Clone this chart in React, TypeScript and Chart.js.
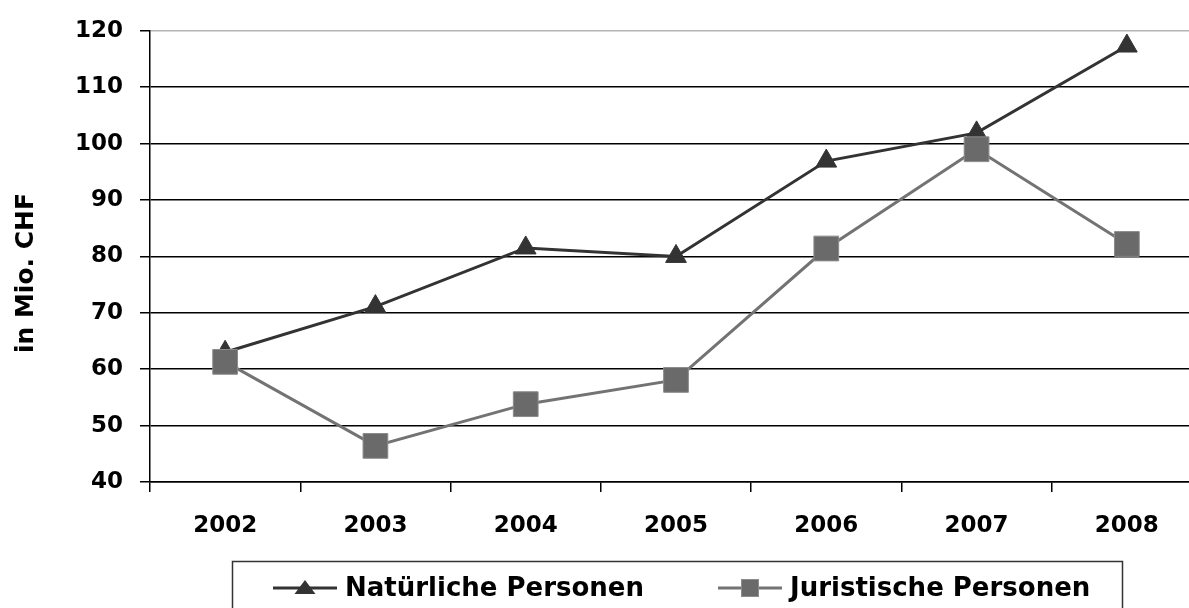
import React, { useEffect, useRef } from "react";
import { Chart, registerables } from "chart.js";

Chart.register(...registerables);

const years = ["2002", "2003", "2004", "2005", "2006", "2007", "2008"];
const natuerlichePersonen = [63.0, 71.1, 81.5, 80.0, 96.9, 101.9, 117.3];
const juristischePersonen = [61.3, 46.4, 53.8, 58.1, 81.4, 99.0, 82.2];
const seriesLabels = ["Natürliche Personen", "Juristische Personen"];
const yAxisTitle = "in Mio. CHF";
const yMin = 40;
const yMax = 120;
const yStep = 10;

const FONT = "'DejaVu Sans', 'Noto Sans', sans-serif";

const legendItems = [
  { lineStart: 273, lineEnd: 337, textX: 345 },
  { lineStart: 718, lineEnd: 782, textX: 790 },
];

const decorPlugin = {
  id: "decor",
  afterDraw(chart: any) {
    const ctx = chart.ctx as CanvasRenderingContext2D;
    // y-axis title
    ctx.save();
    ctx.font = `bold 25px ${FONT}`;
    ctx.fillStyle = "#000";
    ctx.translate(33, 273);
    ctx.rotate(-Math.PI / 2);
    ctx.textAlign = "center";
    ctx.textBaseline = "alphabetic";
    ctx.fillText(yAxisTitle, 0, 0);
    ctx.restore();

    // legend box
    ctx.save();
    ctx.strokeStyle = "#333";
    ctx.lineWidth = 1.5;
    ctx.strokeRect(232.5, 561.5, 890, 80);
    const cy = 588;
    chart.data.datasets.forEach((ds: any, i: number) => {
      const item = legendItems[i];
      ctx.strokeStyle = ds.borderColor;
      ctx.lineWidth = 3;
      ctx.beginPath();
      ctx.moveTo(item.lineStart, cy);
      ctx.lineTo(item.lineEnd, cy);
      ctx.stroke();
      const mx = (item.lineStart + item.lineEnd) / 2;
      ctx.fillStyle = ds.pointBackgroundColor;
      if (ds.pointStyle === "triangle") {
        ctx.beginPath();
        ctx.moveTo(mx, cy - 8);
        ctx.lineTo(mx + 10.5, cy + 6);
        ctx.lineTo(mx - 10.5, cy + 6);
        ctx.closePath();
        ctx.fill();
      } else {
        ctx.fillRect(mx - 8.5, cy - 8.5, 17, 17);
        ctx.strokeStyle = ds.pointBorderColor;
        ctx.lineWidth = 1;
        ctx.strokeRect(mx - 8.5, cy - 8.5, 17, 17);
      }
      ctx.fillStyle = "#000";
      ctx.font = `bold 26px ${FONT}`;
      ctx.textAlign = "left";
      ctx.textBaseline = "alphabetic";
      ctx.fillText(ds.label, item.textX, 596);
    });
    ctx.restore();
  },
};

export default function App() {
  const canvasRef = useRef<HTMLCanvasElement | null>(null);

  useEffect(() => {
    if (!canvasRef.current) return;
    const chart = new Chart(canvasRef.current, {
      type: "line",
      data: {
        labels: years,
        datasets: [
          {
            label: seriesLabels[0],
            data: natuerlichePersonen,
            borderColor: "#333333",
            borderWidth: 3,
            pointStyle: "triangle",
            pointRadius: 12,
            pointHoverRadius: 12,
            pointBackgroundColor: "#333333",
            pointBorderColor: "#333333",
            pointBorderWidth: 1,
            tension: 0,
            order: 1,
          },
          {
            label: seriesLabels[1],
            data: juristischePersonen,
            borderColor: "#737373",
            borderWidth: 3,
            pointStyle: "rect",
            pointRadius: 17.5,
            pointHoverRadius: 17.5,
            pointBackgroundColor: "#6a6a6a",
            pointBorderColor: "#8c8c8c",
            pointBorderWidth: 1,
            tension: 0,
            order: 0,
          },
        ],
      },
      options: {
        animation: false,
        responsive: false,
        maintainAspectRatio: false,
        layout: { padding: { top: 30, right: 28, bottom: 0, left: 0 } },
        plugins: {
          legend: { display: false },
          tooltip: { enabled: false },
          title: { display: false },
        },
        scales: {
          x: {
            type: "category",
            offset: true,
            grid: {
              offset: true,
              drawOnChartArea: false,
              drawTicks: true,
              tickLength: 10,
              color: "#000",
              lineWidth: 1.5,
            },
            border: { color: "#000", width: 1.5 },
            ticks: {
              color: "#000",
              font: { family: FONT, size: 23, weight: "bold" },
              padding: 20,
              maxRotation: 0,
            },
            afterFit: (scale: any) => {
              scale.height = 126;
            },
          },
          y: {
            min: yMin,
            max: yMax,
            ticks: {
              stepSize: yStep,
              color: "#000",
              font: { family: FONT, size: 23, weight: "bold" },
              padding: 17,
            },
            grid: {
              color: (c: any) => (c.tick && c.tick.value === yMax ? "#b4b4b4" : "#000"),
              tickColor: "#000",
              lineWidth: 1.5,
              tickLength: 10,
            },
            border: { color: "#000", width: 1.5 },
            afterFit: (scale: any) => {
              scale.width = 150;
            },
          },
        },
      },
      plugins: [decorPlugin],
    });
    return () => chart.destroy();
  }, []);

  return (
    <div
      style={{
        position: "fixed",
        left: 0,
        top: 0,
        width: 1189,
        height: 608,
        overflow: "hidden",
        background: "#fff",
      }}
    >
      <canvas ref={canvasRef} width={1230} height={608} style={{ display: "block" }} />
    </div>
  );
}
